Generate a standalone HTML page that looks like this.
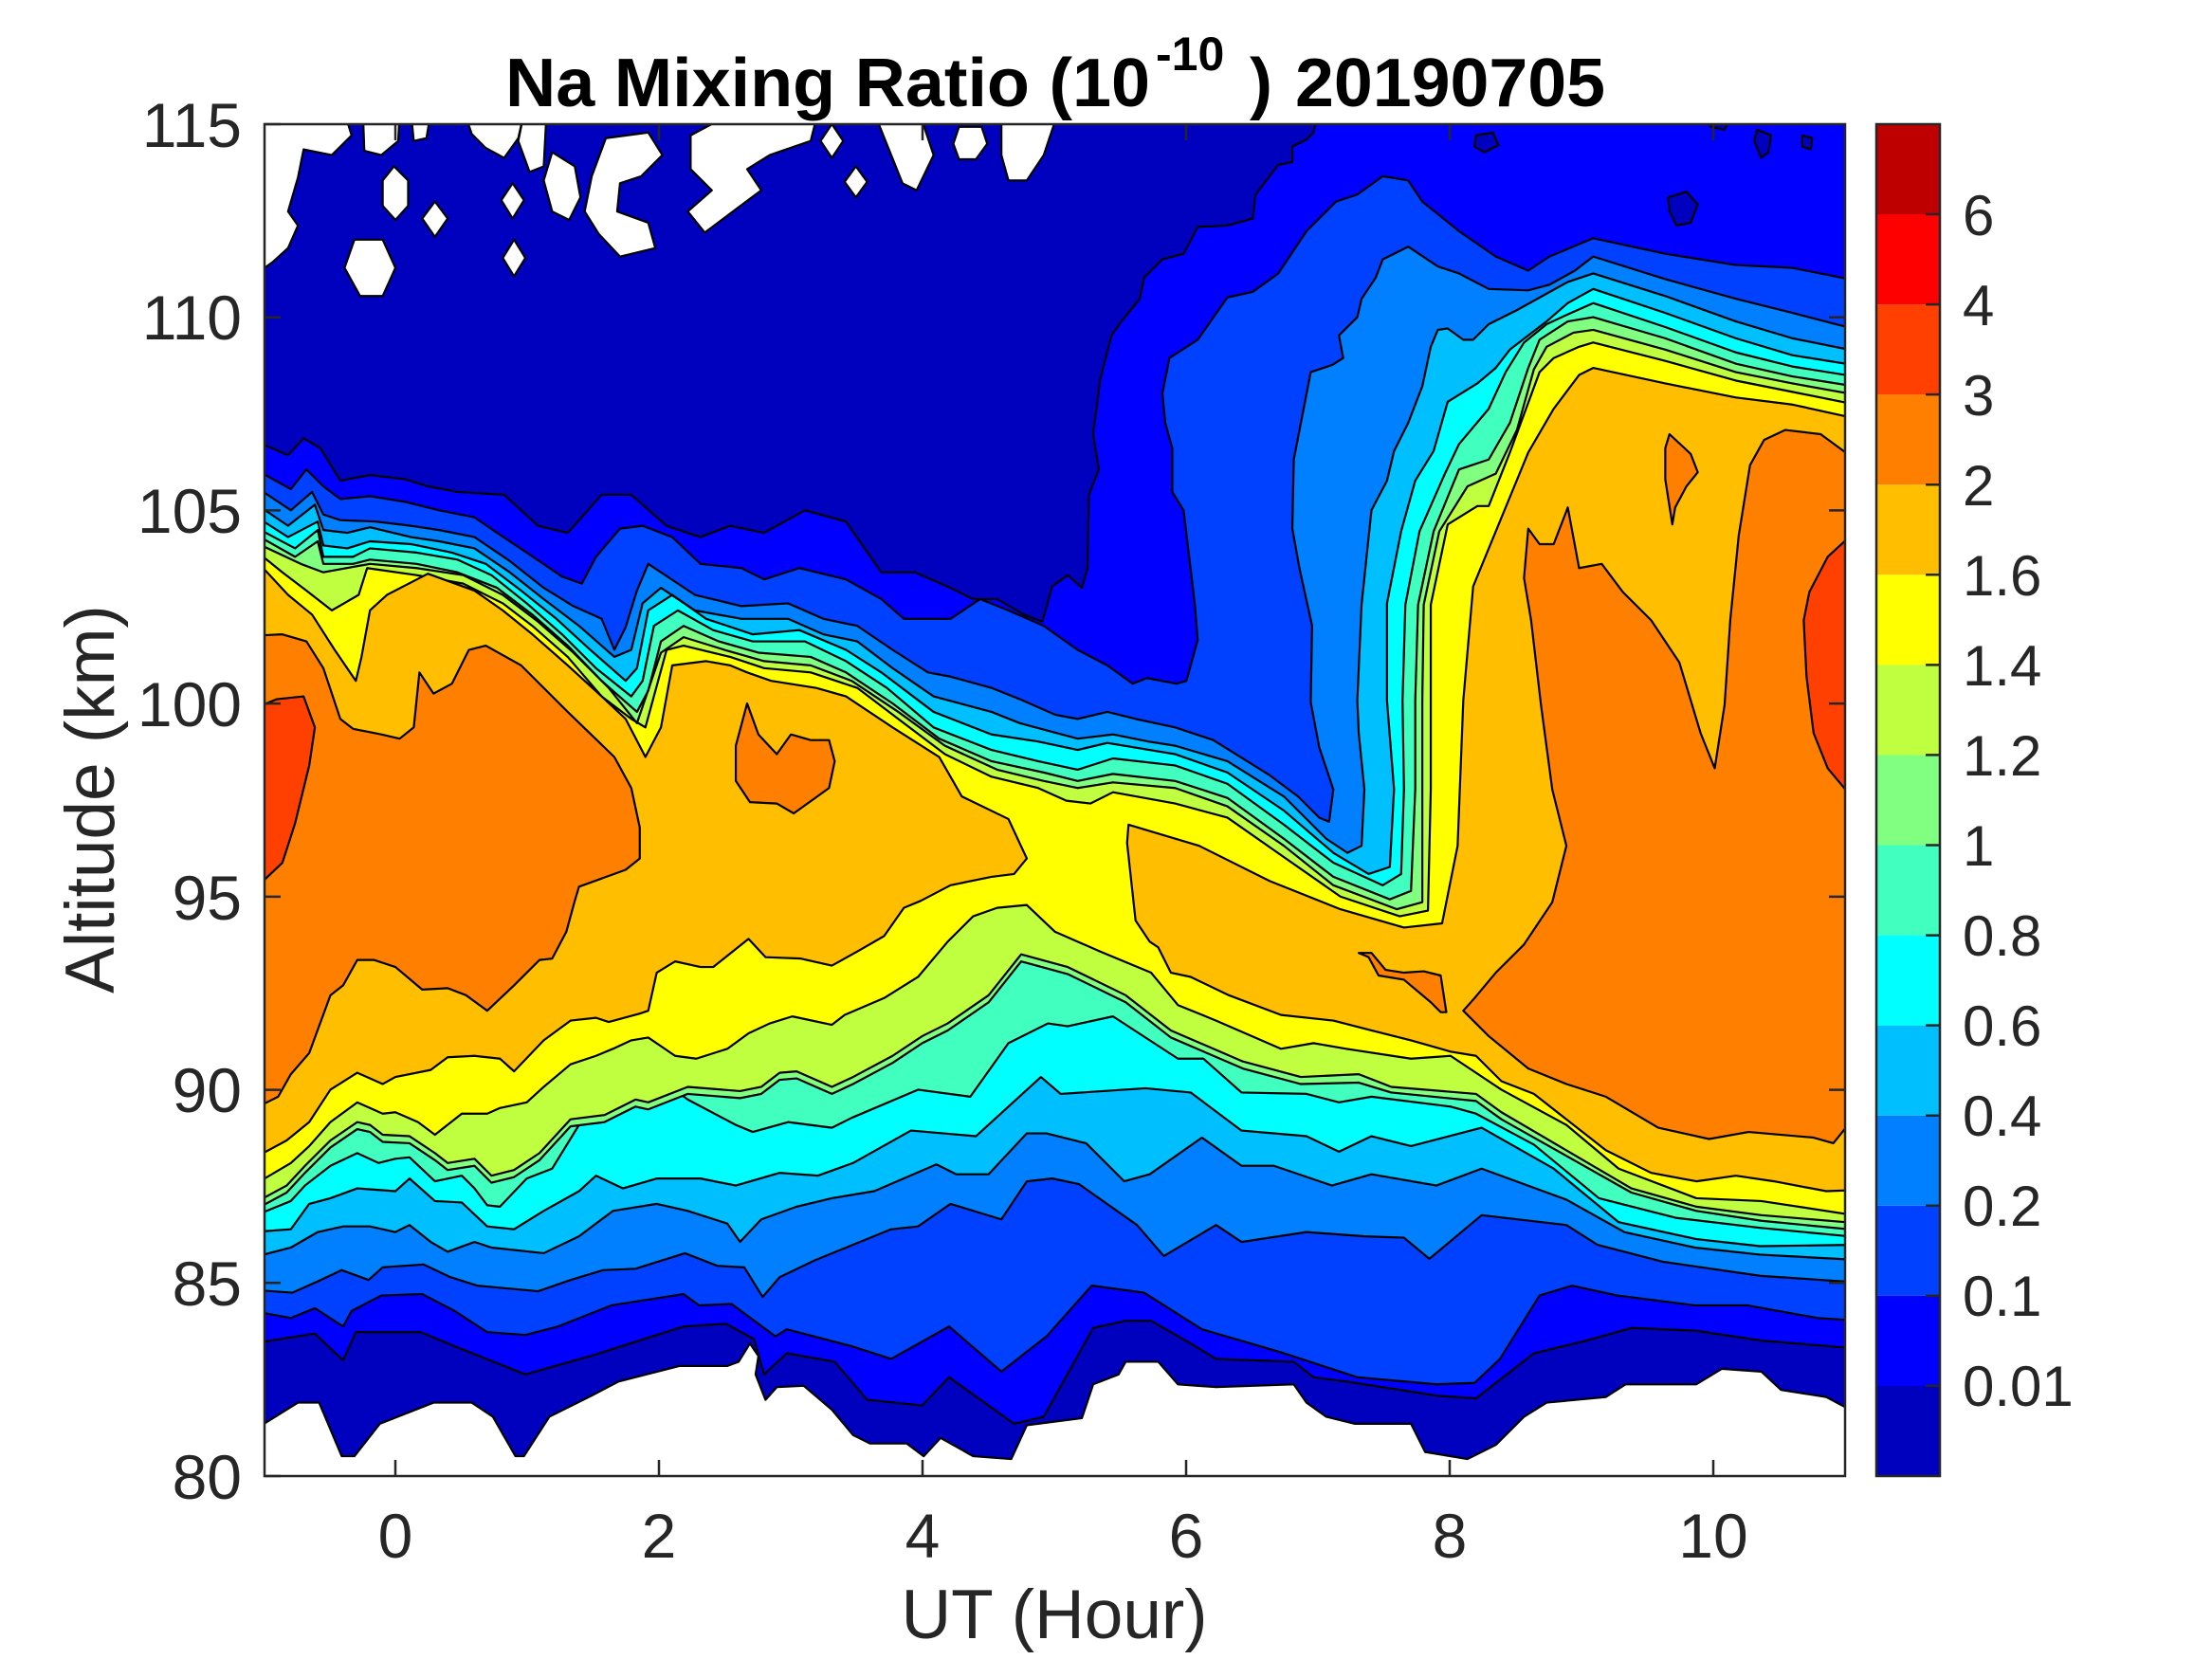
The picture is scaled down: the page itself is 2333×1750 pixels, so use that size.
<!DOCTYPE html>
<html><head><meta charset="utf-8"><style>html,body{margin:0;padding:0;background:#fff}svg{display:block}</style></head><body>
<svg xmlns="http://www.w3.org/2000/svg" width="2333" height="1750" viewBox="0 0 2333 1750">
<defs>
<clipPath id="plot"><rect x="188.3" y="88.1" width="1119" height="959"/></clipPath>
<clipPath id="u1"><polygon points="180,312 205,323 216,311 228,318 242,341 263,337 288,340 304,345 325,349 358,351 382,373 403,378 427,351 448,351 473,373 497,381 518,373 542,378 571,362 600,370 625,406 649,406 674,417 690,425 707,425 726,436 739,441 746,416 757,408 767,417 771,403 772,351 779,333 775,308 780,269 788,238 795,228 808,212 811,197 824,184 839,180 849,161 870,160 888,155 890,138 906,117 916,115 916,104 926,99 931,94 934,80 1320,80 1320,1060 180,1060"/></clipPath>
<clipPath id="u2"><polygon points="180,332 207,347 218,333 230,345 242,354 263,352 288,356 312,362 337,367 353,378 374,392 399,409 413,414 423,395 440,375 456,373 477,381 497,400 526,403 542,411 567,403 600,411 625,425 641,439 674,439 695,425 715,433 740,444 764,461 785,472 803,485 813,481 834,485 841,483 849,454 847,429 839,362 831,349 831,318 826,300 824,279 829,254 849,241 870,211 888,207 906,194 926,164 947,143 962,138 980,125 998,128 1008,143 1034,164 1060,182 1083,192 1098,182 1129,169 1180,180 1230,188 1270,190 1320,200 1320,1060 180,1060"/></clipPath>
<clipPath id="u3"><polygon points="180,344 207,362 222,349 230,365 242,369 267,370 292,373 312,376 337,381 362,398 386,417 407,430 427,439 436,461 444,445 452,419 460,400 493,422 526,430 559,428 584,439 608,444 633,461 658,477 674,480 703,488 723,496 748,507 764,510 785,505 805,510 833,516 860,525 900,550 920,565 935,580 942,583 945,560 935,530 929,498 930,444 921,403 916,375 917,326 924,290 929,264 944,259 952,254 949,238 962,225 965,212 975,197 980,184 998,175 1019,189 1034,194 1055,205 1083,206 1098,202 1116,192 1129,182 1180,198 1230,212 1270,222 1320,235 1320,1060 180,1060"/></clipPath>
<clipPath id="u4"><polygon points="180,356 205,373 224,358 230,376 247,378 263,374 292,381 312,384 337,389 362,406 386,425 411,444 436,466 448,461 456,428 469,417 493,433 526,439 559,439 584,450 608,455 633,474 662,494 703,505 723,513 764,524 789,521 814,526 833,529 870,540 910,565 940,595 955,605 965,600 967,560 963,520 962,497 965,429 972,362 983,341 988,320 998,300 1008,274 1014,246 1019,234 1026,233 1037,241 1044,241 1055,230 1075,220 1093,210 1111,200 1129,194 1180,210 1230,228 1270,240 1320,250 1320,1060 180,1060"/></clipPath>
<clipPath id="u5"><polygon points="180,365 205,381 226,370 230,387 247,389 263,384 292,386 321,392 345,400 370,419 395,439 419,461 444,483 452,474 460,433 477,422 501,439 534,450 567,447 600,461 625,477 662,505 703,521 736,526 764,532 785,527 833,535 870,548 910,575 945,605 970,620 985,615 988,560 983,497 983,428 993,377 1003,341 1016,320 1026,285 1047,272 1060,261 1070,248 1083,238 1096,228 1111,215 1129,205 1180,222 1230,240 1270,252 1320,260 1320,1060 180,1060"/></clipPath>
<clipPath id="u6"><polygon points="180,373 210,389 226,376 230,395 251,395 263,389 296,392 325,397 349,408 374,428 399,450 423,474 448,494 456,483 464,444 481,433 506,447 534,455 571,455 600,469 629,488 662,516 703,532 736,540 764,546 789,538 833,543 870,556 910,585 945,612 980,628 993,620 995,560 994,497 996,429 1006,377 1024,336 1034,315 1055,290 1067,264 1080,243 1096,230 1111,223 1129,215 1180,232 1230,250 1270,260 1320,268 1320,1060 180,1060"/></clipPath>
<clipPath id="u7"><polygon points="180,378 210,395 226,384 230,400 251,400 263,397 296,400 325,406 353,417 378,436 403,458 427,483 452,505 460,490 469,455 485,444 510,455 538,463 575,466 600,477 633,499 666,524 703,540 740,548 764,554 789,549 833,554 870,566 910,595 945,622 985,638 1000,632 1003,560 1003,497 1005,429 1016,377 1034,333 1055,326 1070,300 1083,261 1091,241 1111,228 1129,225 1180,240 1230,258 1270,267 1320,275 1320,1060 180,1060"/></clipPath>
<clipPath id="u8"><polygon points="180,384 214,400 230,406 263,400 296,403 329,408 357,422 382,441 407,463 432,488 452,513 469,463 485,452 514,461 542,469 575,472 604,483 637,505 670,529 707,546 740,554 764,559 789,555 833,559 870,572 910,600 945,628 990,645 1008,640 1008,560 1008,497 1009,429 1020,377 1040,345 1060,336 1075,305 1087,262 1096,246 1115,236 1129,234 1180,248 1230,264 1270,272 1320,281 1320,1060 180,1060"/></clipPath>
<clipPath id="u9"><polygon points="180,389 201,406 218,419 236,433 255,422 261,403 296,408 329,414 357,428 378,444 403,466 427,494 448,510 458,516 473,461 485,458 518,466 542,474 575,477 608,488 637,510 670,535 703,551 736,559 756,568 773,570 789,562 833,570 870,580 910,608 950,636 992,650 1012,646 1014,560 1014,497 1014,429 1026,372 1047,359 1055,359 1070,321 1091,264 1101,254 1119,246 1129,243 1180,256 1230,270 1270,278 1320,288 1320,1060 180,1060"/></clipPath>
</defs>

<g transform="matrix(1.4898,0,0,1.487,-1.6,0)">
<g clip-path="url(#plot)" stroke="#000" stroke-width="2.2" stroke-linejoin="round" style="vector-effect:non-scaling-stroke">
<rect x="180" y="80" width="1140" height="980" fill="#0000BF" stroke="none"/>
<g stroke="#000" stroke-width="2.2">
<polygon vector-effect="non-scaling-stroke" clip-path="url(#u1)" fill="#0000FF" points="180,953 224,946 244,965 253,945 299,945 323,955 373,975 419,962 485,941 515,939 535,950 542,975 558,960 592,966 615,993 654,997 673,977 719,1010 740,1005 775,942 798,937 816,937 844,953 862,964 917,966 931,977 954,980 1018,990 1046,992 1087,960 1124,951 1156,942 1202,944 1248,951 1320,957 1320,70 180,70"/>
<polygon vector-effect="non-scaling-stroke" clip-path="url(#u2)" fill="#0040FF" points="180,930 207,935 224,928 244,941 250,930 271,919 300,918 323,930 346,945 373,947 396,941 434,926 485,918 496,926 519,925 550,948 558,943 604,955 632,964 673,941 710,973 742,948 774,912 811,917 852,943 907,959 962,977 1018,982 1045,981 1063,964 1091,919 1114,912 1146,919 1201,926 1238,926 1288,935 1320,937 1320,70 180,70"/>
<polygon vector-effect="non-scaling-stroke" clip-path="url(#u3)" fill="#0080FF" points="180,915 208,917 226,909 243,901 262,908 272,899 301,897 320,906 339,912 382,916 405,908 428,901 451,900 486,889 509,898 528,899 541,920 553,906 578,894 605,883 632,872 651,870 674,854 710,865 728,838 746,836 765,840 806,869 825,891 862,869 880,881 926,874 967,877 995,878 1013,893 1050,862 1110,869 1132,883 1178,895 1247,905 1320,910 1320,70 180,70"/>
<polygon vector-effect="non-scaling-stroke" clip-path="url(#u4)" fill="#00BFFF" points="180,892 207,885 226,874 244,870 263,870 281,874 291,869 306,881 318,888 337,881 349,885 386,889 411,877 435,859 466,854 488,859 516,868 525,881 540,865 565,856 590,850 620,845 664,826 678,833 701,833 728,804 742,804 770,811 797,838 815,833 852,807 880,827 903,827 944,841 972,833 1018,841 1050,829 1110,851 1151,874 1201,885 1247,890 1320,894 1320,70 180,70"/>
<polygon vector-effect="non-scaling-stroke" clip-path="url(#u5)" fill="#00FFFF" points="180,874 207,872 220,854 235,850 254,843 281,845 291,836 309,852 328,853 346,870 365,872 386,859 411,845 423,834 442,843 466,836 497,836 522,841 553,832 580,834 605,825 646,802 692,806 738,764 752,776 812,772 844,775 880,802 926,806 949,817 972,806 1000,813 1050,800 1101,829 1147,867 1202,879 1247,884 1320,883 1320,70 180,70"/>
<polygon vector-effect="non-scaling-stroke" clip-path="url(#u6)" fill="#40FFBF" points="180,863 207,852 217,841 235,827 254,818 269,825 281,822 291,821 309,838 328,834 337,843 346,855 355,856 374,836 392,829 411,798 435,791 460,767 476,771 488,780 522,798 534,803 559,796 590,800 604,793 651,773 688,778 715,740 743,726 757,728 789,721 835,751 853,751 880,775 926,776 949,782 972,778 1028,785 1046,790 1087,812 1133,850 1188,864 1247,871 1320,878 1320,70 180,70"/>
<polygon vector-effect="non-scaling-stroke" clip-path="url(#u7)" fill="#80FF80" points="180,859 204,846 217,832 235,814 254,801 263,803 272,810 291,811 309,823 318,830 337,827 349,839 365,835 383,823 405,799 429,796 451,785 460,787 488,776 525,779 540,776 553,766 565,765 590,776 605,769 633,754 654,740 672,731 701,711 724,682 757,691 798,711 830,736 881,758 922,769 963,768 986,775 1046,781 1064,794 1110,820 1156,846 1202,859 1248,866 1320,873 1320,70 180,70"/>
<polygon vector-effect="non-scaling-stroke" clip-path="url(#u8)" fill="#BFFF40" points="180,854 204,841 217,827 235,809 254,796 263,798 272,805 291,806 309,818 318,825 337,822 349,834 365,830 383,818 405,794 429,791 451,780 460,782 488,771 525,774 540,771 553,761 565,760 590,771 605,764 633,749 654,735 672,726 701,706 724,677 757,686 798,706 830,731 881,753 922,764 963,762 986,771 1046,776 1064,789 1110,816 1156,843 1202,856 1248,862 1320,868 1320,70 180,70"/>
<polygon vector-effect="non-scaling-stroke" clip-path="url(#u9)" fill="#FFFF00" points="180,841 207,825 220,813 235,796 254,782 272,790 281,789 297,796 309,805 328,790 346,790 355,786 374,782 386,771 405,755 423,749 435,744 448,738 460,736 479,749 494,751 516,744 531,733 546,726 562,721 590,727 599,720 627,708 651,693 672,668 690,650 707,644 728,642 748,661 780,675 816,690 835,713 862,724 908,744 931,740 954,744 1000,751 1028,749 1064,773 1110,798 1147,829 1202,850 1248,852 1320,863 1320,70 180,70"/>
</g>
<g fill="none" stroke="#000" stroke-width="2.2">
<polyline vector-effect="non-scaling-stroke" points="180,312 205,323 216,311 228,318 242,341 263,337 288,340 304,345 325,349 358,351 382,373 403,378 427,351 448,351 473,373 497,381 518,373 542,378 571,362 600,370 625,406 649,406 674,417 690,425 707,425 726,436 739,441 746,416 757,408 767,417 771,403 772,351 779,333 775,308 780,269 788,238 795,228 808,212 811,197 824,184 839,180 849,161 870,160 888,155 890,138 906,117 916,115 916,104 926,99 931,94 934,80"/>
<polyline vector-effect="non-scaling-stroke" points="180,332 207,347 218,333 230,345 242,354 263,352 288,356 312,362 337,367 353,378 374,392 399,409 413,414 423,395 440,375 456,373 477,381 497,400 526,403 542,411 567,403 600,411 625,425 641,439 674,439 695,425 715,433 740,444 764,461 785,472 803,485 813,481 834,485 841,483 849,454 847,429 839,362 831,349 831,318 826,300 824,279 829,254 849,241 870,211 888,207 906,194 926,164 947,143 962,138 980,125 998,128 1008,143 1034,164 1060,182 1083,192 1098,182 1129,169 1180,180 1230,188 1270,190 1320,200"/>
<polyline vector-effect="non-scaling-stroke" points="180,344 207,362 222,349 230,365 242,369 267,370 292,373 312,376 337,381 362,398 386,417 407,430 427,439 436,461 444,445 452,419 460,400 493,422 526,430 559,428 584,439 608,444 633,461 658,477 674,480 703,488 723,496 748,507 764,510 785,505 805,510 833,516 860,525 900,550 920,565 935,580 942,583 945,560 935,530 929,498 930,444 921,403 916,375 917,326 924,290 929,264 944,259 952,254 949,238 962,225 965,212 975,197 980,184 998,175 1019,189 1034,194 1055,205 1083,206 1098,202 1116,192 1129,182 1180,198 1230,212 1270,222 1320,235"/>
<polyline vector-effect="non-scaling-stroke" points="180,356 205,373 224,358 230,376 247,378 263,374 292,381 312,384 337,389 362,406 386,425 411,444 436,466 448,461 456,428 469,417 493,433 526,439 559,439 584,450 608,455 633,474 662,494 703,505 723,513 764,524 789,521 814,526 833,529 870,540 910,565 940,595 955,605 965,600 967,560 963,520 962,497 965,429 972,362 983,341 988,320 998,300 1008,274 1014,246 1019,234 1026,233 1037,241 1044,241 1055,230 1075,220 1093,210 1111,200 1129,194 1180,210 1230,228 1270,240 1320,250"/>
<polyline vector-effect="non-scaling-stroke" points="180,365 205,381 226,370 230,387 247,389 263,384 292,386 321,392 345,400 370,419 395,439 419,461 444,483 452,474 460,433 477,422 501,439 534,450 567,447 600,461 625,477 662,505 703,521 736,526 764,532 785,527 833,535 870,548 910,575 945,605 970,620 985,615 988,560 983,497 983,428 993,377 1003,341 1016,320 1026,285 1047,272 1060,261 1070,248 1083,238 1096,228 1111,215 1129,205 1180,222 1230,240 1270,252 1320,260"/>
<polyline vector-effect="non-scaling-stroke" points="180,373 210,389 226,376 230,395 251,395 263,389 296,392 325,397 349,408 374,428 399,450 423,474 448,494 456,483 464,444 481,433 506,447 534,455 571,455 600,469 629,488 662,516 703,532 736,540 764,546 789,538 833,543 870,556 910,585 945,612 980,628 993,620 995,560 994,497 996,429 1006,377 1024,336 1034,315 1055,290 1067,264 1080,243 1096,230 1111,223 1129,215 1180,232 1230,250 1270,260 1320,268"/>
<polyline vector-effect="non-scaling-stroke" points="180,378 210,395 226,384 230,400 251,400 263,397 296,400 325,406 353,417 378,436 403,458 427,483 452,505 460,490 469,455 485,444 510,455 538,463 575,466 600,477 633,499 666,524 703,540 740,548 764,554 789,549 833,554 870,566 910,595 945,622 985,638 1000,632 1003,560 1003,497 1005,429 1016,377 1034,333 1055,326 1070,300 1083,261 1091,241 1111,228 1129,225 1180,240 1230,258 1270,267 1320,275"/>
<polyline vector-effect="non-scaling-stroke" points="180,384 214,400 230,406 263,400 296,403 329,408 357,422 382,441 407,463 432,488 452,513 469,463 485,452 514,461 542,469 575,472 604,483 637,505 670,529 707,546 740,554 764,559 789,555 833,559 870,572 910,600 945,628 990,645 1008,640 1008,560 1008,497 1009,429 1020,377 1040,345 1060,336 1075,305 1087,262 1096,246 1115,236 1129,234 1180,248 1230,264 1270,272 1320,281"/>
<polyline vector-effect="non-scaling-stroke" points="180,389 201,406 218,419 236,433 255,422 261,403 296,408 329,414 357,428 378,444 403,466 427,494 448,510 458,516 473,461 485,458 518,466 542,474 575,477 608,488 637,510 670,535 703,551 736,559 756,568 773,570 789,562 833,570 870,580 910,608 950,636 992,650 1012,646 1014,560 1014,497 1014,429 1026,372 1047,359 1055,359 1070,321 1091,264 1101,254 1119,246 1129,243 1180,256 1230,270 1270,278 1320,288"/>
</g>
<g fill="#0000BF" stroke="#000" stroke-width="2.2">
<polygon vector-effect="non-scaling-stroke" points="1182,140 1195,136 1203,145 1198,158 1188,160 1183,150"/>
<polygon vector-effect="non-scaling-stroke" points="1245,92 1255,96 1253,108 1248,112 1243,100"/>
<polygon vector-effect="non-scaling-stroke" points="1277,96 1284,98 1283,106 1277,104"/>
<polygon vector-effect="non-scaling-stroke" points="1046,96 1058,94 1062,103 1052,108 1045,104"/>
<polygon vector-effect="non-scaling-stroke" points="1210,80 1228,80 1222,92 1212,90"/>
</g>
<g stroke="#000" stroke-width="2.2">
<polygon vector-effect="non-scaling-stroke" fill="#FFBF00" points="180,395 205,422 222,436 238,461 253,483 257,466 263,433 275,422 304,407 337,419 357,433 378,450 403,472 427,494 444,510 458,537 469,516 477,472 501,469 518,472 530,477 547,483 579,488 600,494 633,516 666,537 682,565 715,581 728,609 719,620 703,622 674,628 653,639 641,644 627,664 608,675 590,685 568,680 543,679 531,666 506,686 497,686 479,682 466,690 460,717 454,719 432,725 423,722 405,724 386,738 365,760 355,751 337,749 318,750 306,759 281,764 272,769 254,761 235,773 220,796 204,809 180,822"/>
<polygon vector-effect="non-scaling-stroke" fill="#FFBF00" points="1320,298 1270,287 1230,282 1180,272 1129,261 1119,266 1101,290 1083,321 1060,377 1044,416 1037,497 1033,600 1022,655 995,658 950,645 900,625 850,600 800,585 799,598 805,653 815,668 821,672 830,690 844,693 871,706 908,720 945,724 972,731 1000,738 1028,746 1046,749 1064,767 1087,776 1138,816 1170,832 1202,838 1230,834 1257,838 1294,845 1320,844"/>
<polygon vector-effect="non-scaling-stroke" fill="#FF8000" points="180,451 201,450 218,455 230,474 242,510 251,517 271,521 284,524 294,516 298,477 308,492 321,485 333,461 345,458 370,472 403,505 436,537 448,559 454,587 454,609 444,617 411,629 408,639 402,661 392,680 383,681 365,699 346,717 331,706 318,701 300,702 281,686 266,681 254,681 244,699 235,706 220,747 207,762 198,778 180,787"/>
<polygon vector-effect="non-scaling-stroke" fill="#FF8000" points="522,529 530,499 538,521 551,535 561,521 575,525 588,525 592,540 588,559 563,577 551,570 532,569 522,554"/>
<polygon vector-effect="non-scaling-stroke" fill="#FF8000" points="1083,375 1091,386 1101,386 1111,360 1119,403 1135,400 1150,420 1170,440 1190,470 1205,520 1215,545 1222,500 1226,440 1232,380 1240,330 1250,312 1265,305 1290,308 1320,330 1320,802 1307,801 1299,811 1285,807 1239,803 1211,808 1175,800 1138,778 1110,769 1083,758 1055,735 1037,717 1045,708 1060,690 1080,670 1100,640 1110,600 1100,560 1092,500 1085,440 1080,410"/>
<polygon vector-effect="non-scaling-stroke" fill="#FF8000" points="1183,308 1198,322 1203,335 1195,345 1187,360 1185,372 1180,340 1180,318"/>
<polygon vector-effect="non-scaling-stroke" fill="#FF8000" points="963,676 972,676 982,688 995,690 1009,689 1021,692 1025,718 1021,718 1014,711 995,695 977,692 970,679"/>
<polygon vector-effect="non-scaling-stroke" fill="#FF4000" points="180,503 197,496 216,494 224,516 220,543 210,584 201,612 180,632"/>
<polygon vector-effect="non-scaling-stroke" fill="#FF4000" points="1320,372 1295,395 1282,420 1278,440 1280,480 1285,520 1295,545 1320,575"/>
</g>
<g fill="#fff" stroke="#000" stroke-width="2.2">
<polygon vector-effect="non-scaling-stroke" points="180,1015 212,995 227,995 243,1033 252,1033 270,1010 308,995 335,995 350,1005 366,1033 372,1033 390,1005 420,990 439,980 482,969 516,969 524,966 532,953 538,962 536,975 543,993 551,984 570,983 590,1000 605,1018 617,1024 643,1024 655,1033 667,1020 690,1033 717,1035 728,1011 767,1006 775,982 793,975 798,966 821,966 835,982 862,984 917,982 926,995 940,1005 960,1010 1000,1010 1010,1030 1040,1035 1060,1025 1080,1005 1096,995 1138,991 1152,982 1202,982 1220,971 1248,973 1262,986 1294,991 1320,1005 1320,1060 180,1060"/>
<polygon vector-effect="non-scaling-stroke" points="180,80 245,80 250,96 236,110 216,106 212,126 205,150 212,160 205,176 194,186 180,196"/>
<polygon vector-effect="non-scaling-stroke" points="258,80 284,80 283,100 271,110 259,107"/>
<polygon vector-effect="non-scaling-stroke" points="280,118 290,128 290,146 281,156 272,146 272,128"/>
<polygon vector-effect="non-scaling-stroke" points="309,143 318,155 309,168 300,155"/>
<polygon vector-effect="non-scaling-stroke" points="252,170 272,170 281,190 272,210 256,210 245,190"/>
<polygon vector-effect="non-scaling-stroke" points="292,80 306,80 303,98 294,100"/>
<polygon vector-effect="non-scaling-stroke" points="330,80 372,80 368,98 358,112 345,105 335,95"/>
<polygon vector-effect="non-scaling-stroke" points="372,80 388,80 386,118 376,122 368,100"/>
<polygon vector-effect="non-scaling-stroke" points="364,130 372,142 364,155 356,142"/>
<polygon vector-effect="non-scaling-stroke" points="365,170 373,183 365,196 357,183"/>
<polygon vector-effect="non-scaling-stroke" points="392,108 408,118 412,140 404,156 392,150 386,128"/>
<polygon vector-effect="non-scaling-stroke" points="430,98 460,94 470,110 455,125 440,130 438,150 460,158 465,176 440,182 425,166 415,150 420,125"/>
<polygon vector-effect="non-scaling-stroke" points="490,96 520,80 580,80 575,100 546,110 530,120 540,135 520,150 500,165 488,150 505,135 490,120"/>
<polygon vector-effect="non-scaling-stroke" points="590,88 598,100 590,112 582,100"/>
<polygon vector-effect="non-scaling-stroke" points="607,118 615,129 607,140 599,129"/>
<polygon vector-effect="non-scaling-stroke" points="620,80 652,80 662,110 650,135 640,130 630,105"/>
<polygon vector-effect="non-scaling-stroke" points="680,90 696,90 700,102 692,113 680,113 676,102"/>
<polygon vector-effect="non-scaling-stroke" points="710,80 750,80 740,110 728,128 715,128 710,110"/>
</g>
</g>
</g>

<g stroke="#262626" stroke-width="2.5" fill="none">
<rect x="279" y="131" width="1667" height="1426"/>
<path d="M417,1557v-17M695,1557v-17M973,1557v-17M1251,1557v-17M1529,1557v-17M1807,1557v-17
M417,131v17M695,131v17M973,131v17M1251,131v17M1529,131v17M1807,131v17
M279,1557h17M279,1353.3h17M279,1149.6h17M279,945.9h17M279,742.1h17M279,538.4h17M279,334.7h17M279,131h17
M1946,1353.3h-17M1946,1149.6h-17M1946,945.9h-17M1946,742.1h-17M1946,538.4h-17M1946,334.7h-17"/>
</g>
<g font-family="'Liberation Sans',Arial,sans-serif" font-size="66" fill="#262626">
<g text-anchor="end">
<text x="255" y="1581">80</text>
<text x="255" y="1377">85</text>
<text x="255" y="1173">90</text>
<text x="255" y="970">95</text>
<text x="255" y="766">100</text>
<text x="255" y="562">105</text>
<text x="255" y="358">110</text>
<text x="255" y="155">115</text>
</g>
<g text-anchor="middle">
<text x="417" y="1643">0</text>
<text x="695" y="1643">2</text>
<text x="973" y="1643">4</text>
<text x="1251" y="1643">6</text>
<text x="1529" y="1643">8</text>
<text x="1807" y="1643">10</text>
</g>
<text x="1112" y="1728" text-anchor="middle" font-size="73">UT (Hour)</text>
<text transform="translate(120,843) rotate(-90)" text-anchor="middle" font-size="73">Altitude (km)</text>
</g>
<g font-family="'Liberation Sans',Arial,sans-serif" font-weight="bold" fill="#000">
<text x="533" y="112" font-size="72" textLength="680" lengthAdjust="spacingAndGlyphs">Na Mixing Ratio (10</text>
<text x="1219" y="74" font-size="50">-10</text>
<text x="1318" y="112" font-size="72">)</text>
<text x="1366" y="112" font-size="72" textLength="327" lengthAdjust="spacingAndGlyphs">20190705</text>
</g>

<g>
<rect x="1979" y="1461.9" width="67" height="95.1" fill="#0000BF"/>
<rect x="1979" y="1366.9" width="67" height="95.1" fill="#0000FF"/>
<rect x="1979" y="1271.8" width="67" height="95.1" fill="#0040FF"/>
<rect x="1979" y="1176.7" width="67" height="95.1" fill="#0080FF"/>
<rect x="1979" y="1081.6" width="67" height="95.1" fill="#00BFFF"/>
<rect x="1979" y="986.6" width="67" height="95.1" fill="#00FFFF"/>
<rect x="1979" y="891.5" width="67" height="95.1" fill="#40FFBF"/>
<rect x="1979" y="796.4" width="67" height="95.1" fill="#80FF80"/>
<rect x="1979" y="701.4" width="67" height="95.1" fill="#BFFF40"/>
<rect x="1979" y="606.3" width="67" height="95.1" fill="#FFFF00"/>
<rect x="1979" y="511.2" width="67" height="95.1" fill="#FFBF00"/>
<rect x="1979" y="416.1" width="67" height="95.1" fill="#FF8000"/>
<rect x="1979" y="321.1" width="67" height="95.1" fill="#FF4000"/>
<rect x="1979" y="226" width="67" height="95.1" fill="#FF0000"/>
<rect x="1979" y="131" width="67" height="95.1" fill="#BF0000"/>
<rect x="1979" y="131" width="67" height="1426" fill="none" stroke="#262626" stroke-width="2.5"/>
<path stroke="#262626" stroke-width="2.5" d="M2046,1461.9h-15M2046,1366.9h-15M2046,1271.8h-15M2046,1176.7h-15M2046,1081.6h-15M2046,986.6h-15M2046,891.5h-15M2046,796.4h-15M2046,701.4h-15M2046,606.3h-15M2046,511.2h-15M2046,416.1h-15M2046,321.1h-15M2046,226h-15"/>
</g>
<g font-family="'Liberation Sans',Arial,sans-serif" font-size="60" fill="#262626">
<text x="2070" y="1483">0.01</text>
<text x="2070" y="1388">0.1</text>
<text x="2070" y="1293">0.2</text>
<text x="2070" y="1198">0.4</text>
<text x="2070" y="1103">0.6</text>
<text x="2070" y="1008">0.8</text>
<text x="2070" y="913">1</text>
<text x="2070" y="818">1.2</text>
<text x="2070" y="723">1.4</text>
<text x="2070" y="628">1.6</text>
<text x="2070" y="533">2</text>
<text x="2070" y="438">3</text>
<text x="2070" y="343">4</text>
<text x="2070" y="248">6</text>
</g>
</svg>
</body></html>
